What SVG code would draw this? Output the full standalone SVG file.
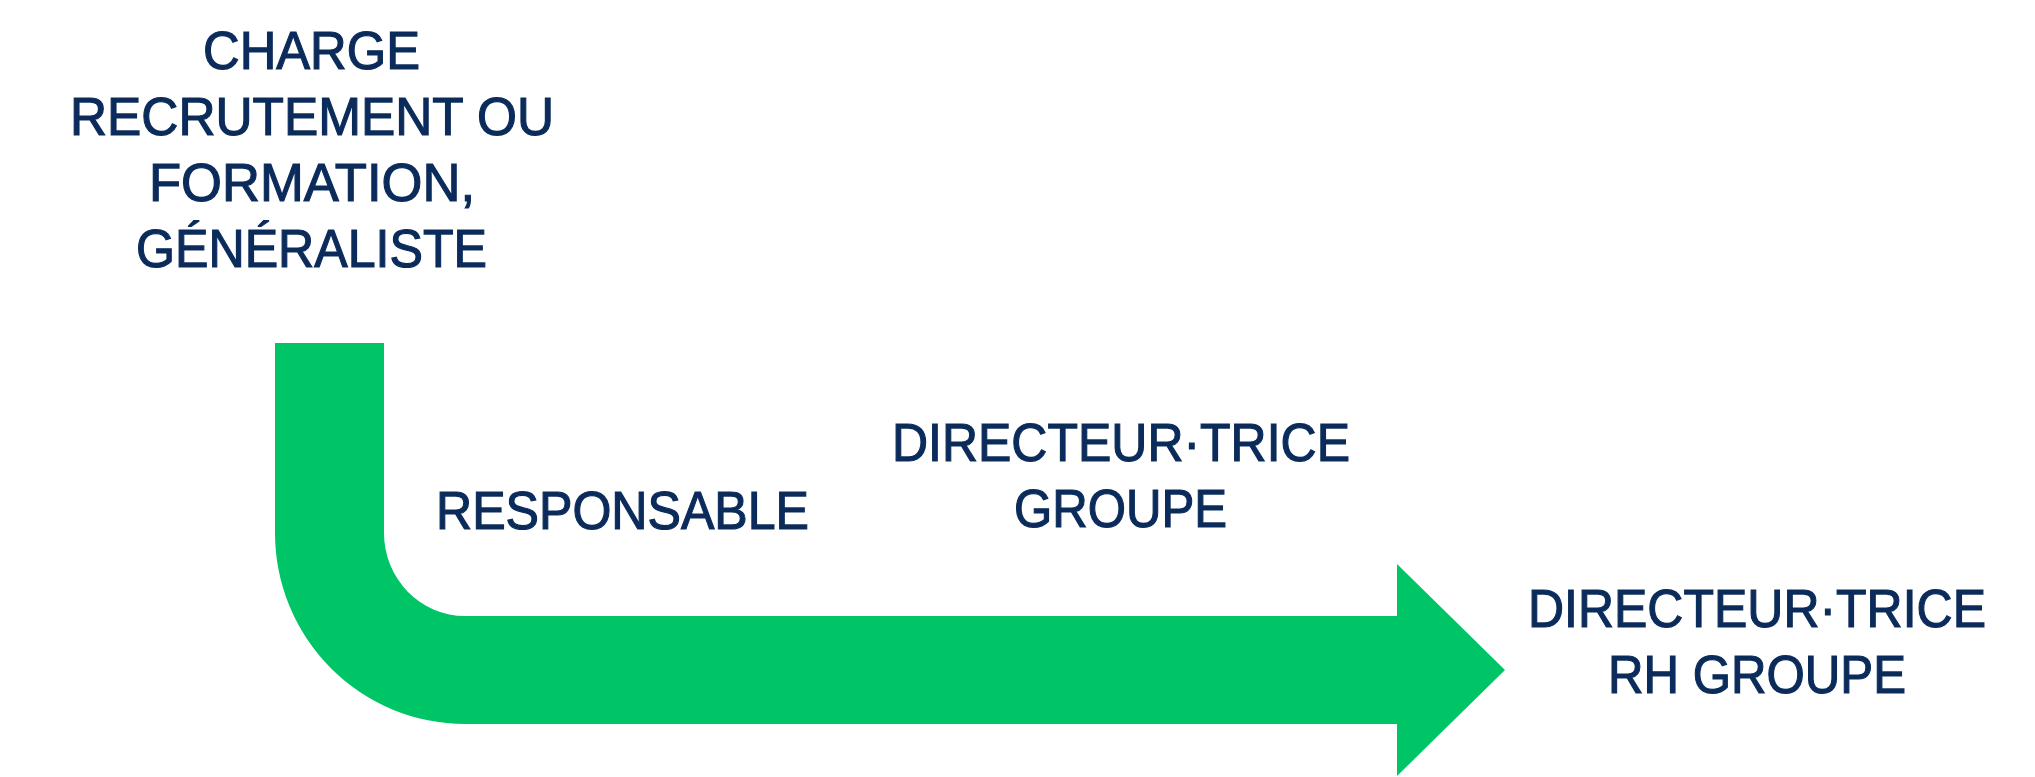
<svg xmlns="http://www.w3.org/2000/svg" width="2035" height="777" viewBox="0 0 2035 777">
  <style>
    .lbl { font-family: "Liberation Sans", Arial, sans-serif; font-size: 54px; fill: #0B2B5B; stroke: #0B2B5B; stroke-width: 1.2px; }
    .flow { fill: #00C566; }
  </style>
  <rect x="0" y="0" width="2035" height="777" fill="#FFFFFF"/>
  <g id="connectors">
    <path class="flow" d="M275,343 H384 V533 A81,83 0 0 0 465,616 H1397 V564 L1505,670 L1397,776 V724 H465 A190,191 0 0 1 275,533 Z"/>
  </g>
  <g id="node-charge">
    <text class="lbl" x="203" y="69" textLength="217" lengthAdjust="spacingAndGlyphs">CHARGE</text>
    <text class="lbl" x="70" y="135" textLength="484" lengthAdjust="spacingAndGlyphs">RECRUTEMENT OU</text>
    <text class="lbl" x="149" y="201" textLength="326" lengthAdjust="spacingAndGlyphs">FORMATION,</text>
    <text class="lbl" x="136" y="267" textLength="351" lengthAdjust="spacingAndGlyphs">GÉNÉRALISTE</text>
  </g>
  <g id="node-responsable">
    <text class="lbl" x="436" y="529" textLength="373" lengthAdjust="spacingAndGlyphs">RESPONSABLE</text>
  </g>
  <g id="node-directeur-groupe">
    <text class="lbl" x="892" y="461" textLength="458" lengthAdjust="spacingAndGlyphs">DIRECTEUR·TRICE</text>
    <text class="lbl" x="1014" y="527" textLength="213" lengthAdjust="spacingAndGlyphs">GROUPE</text>
  </g>
  <g id="node-directeur-rh">
    <text class="lbl" x="1528" y="627" textLength="458" lengthAdjust="spacingAndGlyphs">DIRECTEUR·TRICE</text>
    <text class="lbl" x="1608" y="693" textLength="298" lengthAdjust="spacingAndGlyphs">RH GROUPE</text>
  </g>
</svg>
